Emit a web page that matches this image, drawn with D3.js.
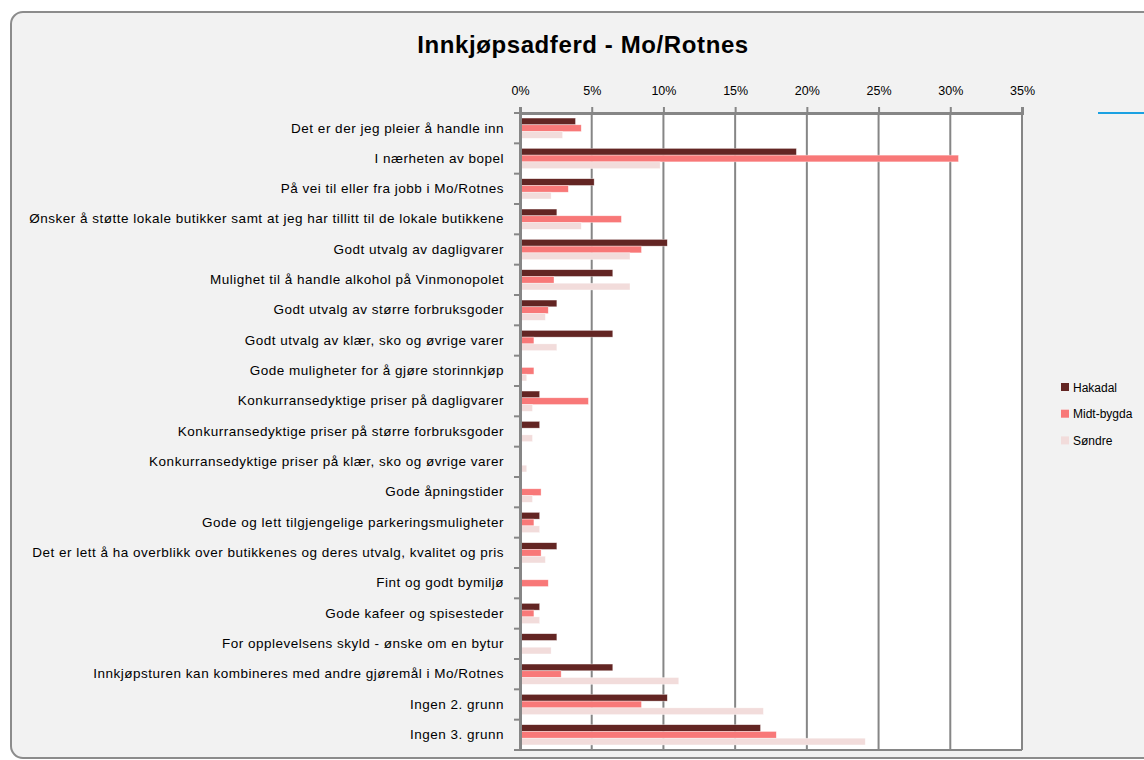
<!DOCTYPE html>
<html><head><meta charset="utf-8">
<script src="https://cdn.jsdelivr.net/npm/d3@7"></script>
<style>
html,body{margin:0;padding:0;background:#fff;}
svg{display:block;}
text{font-family:"Liberation Sans","DejaVu Sans",sans-serif;fill:#000;}
</style></head>
<body>
<svg id="c" width="1144" height="760"></svg>
<script>
const categories = [
  "Det er der jeg pleier å handle inn",
  "I nærheten av bopel",
  "På vei til eller fra jobb i Mo/Rotnes",
  "Ønsker å støtte lokale butikker samt at jeg har tillitt til de lokale butikkene",
  "Godt utvalg av dagligvarer",
  "Mulighet til å handle alkohol på Vinmonopolet",
  "Godt utvalg av større forbruksgoder",
  "Godt utvalg av klær, sko og øvrige varer",
  "Gode muligheter for å gjøre storinnkjøp",
  "Konkurransedyktige priser på dagligvarer",
  "Konkurransedyktige priser på større forbruksgoder",
  "Konkurransedyktige priser på klær, sko og øvrige varer",
  "Gode åpningstider",
  "Gode og lett tilgjengelige parkeringsmuligheter",
  "Det er lett å ha overblikk over butikkenes og deres utvalg, kvalitet og pris",
  "Fint og godt bymiljø",
  "Gode kafeer og spisesteder",
  "For opplevelsens skyld - ønske om en bytur",
  "Innkjøpsturen kan kombineres med andre gjøremål i Mo/Rotnes",
  "Ingen 2. grunn",
  "Ingen 3. grunn"
];
const seriesNames = ["Hakadal", "Midt-bygda", "Søndre"];
const hakadal   = [3.8, 19.2, 5.1, 2.5, 10.2, 6.4, 2.5, 6.4, 0, 1.3, 1.3, 0, 0, 1.3, 2.5, 0, 1.3, 2.5, 6.4, 10.2, 16.7];
const midtbygda = [4.2, 30.5, 3.3, 7.0, 8.4, 2.3, 1.9, 0.9, 0.9, 4.7, 0, 0, 1.4, 0.9, 1.4, 1.9, 0.9, 0, 2.8, 8.4, 17.8];
const sondre    = [2.9, 9.7, 2.1, 4.2, 7.6, 7.6, 1.7, 2.5, 0.4, 0.8, 0.8, 0.4, 0.8, 1.3, 1.7, 0, 1.3, 2.1, 11.0, 16.9, 24.0];
const tickValues = [0, 5, 10, 15, 20, 25, 30, 35];
const chartTitle = "Innkjøpsadferd - Mo/Rotnes";

const colors = ["#632523", "#F87878", "#F2DCDB"];
const seriesData = [hakadal, midtbygda, sondre];

const svg = d3.select("#c");
svg.append("rect").attr("x", 11).attr("y", 12).attr("width", 1160).attr("height", 746)
  .attr("rx", 12).attr("fill", "#F2F2F2").attr("stroke", "#8C8C8C").attr("stroke-width", 2);

svg.append("line").attr("x1", 1098).attr("x2", 1144).attr("y1", 113).attr("y2", 113)
  .attr("stroke", "#1BA1E2").attr("stroke-width", 2);

const pLeft = 520, pRight = 1022, pTop = 113, pBottom = 750;
const x = d3.scaleLinear().domain([0, 35]).range([pLeft, pRight]);
const y = d3.scaleBand().domain(categories).range([pTop, pBottom]).paddingInner(0.333).paddingOuter(0.1667);
const ys = d3.scaleBand().domain(seriesNames).range([0, y.bandwidth()]);

svg.append("rect").attr("x", pLeft).attr("y", pTop).attr("width", pRight - pLeft).attr("height", pBottom - pTop).attr("fill", "#fff");

svg.append("g").selectAll("line").data(tickValues).join("line")
  .attr("x1", d => x(d)).attr("x2", d => x(d)).attr("y1", pTop).attr("y2", pBottom)
  .attr("stroke", "#868686").attr("stroke-width", 2);

const rows = categories.map((c, i) => ({c, vals: seriesNames.map((s, j) => ({s, v: seriesData[j][i], j}))}));
const g = svg.append("g");
g.selectAll("g").data(rows).join("g")
  .attr("transform", d => `translate(0,${y(d.c)})`)
  .selectAll("rect").data(d => d.vals.filter(v => v.v > 0)).join("rect")
  .attr("x", x(0) + 1).attr("y", d => ys(d.s))
  .attr("width", d => x(d.v) - x(0))
  .attr("height", ys.bandwidth())
  .attr("fill", d => colors[d.j])
  .attr("stroke", "#ffffff").attr("stroke-opacity", 0.6).attr("stroke-width", 0.6);

const xAxis = d3.axisTop(x).tickValues(tickValues).tickFormat(d => d + "%").tickSize(6).tickPadding(12);
const ax = svg.append("g").attr("transform", `translate(0,${pTop})`).call(xAxis);
ax.select(".domain").attr("stroke", "#868686").attr("stroke-width", 3);
ax.selectAll(".tick line").attr("stroke", "#868686").attr("stroke-width", 2);
ax.selectAll(".tick text").attr("font-size", 12.5).attr("font-family", "Liberation Sans, sans-serif").attr("fill", "#000");

svg.append("line").attr("x1", pLeft).attr("x2", pRight).attr("y1", pBottom).attr("y2", pBottom)
  .attr("stroke", "#868686").attr("stroke-width", 2);

const yAxis = d3.axisLeft(y).tickSize(0).tickPadding(16);
const ay = svg.append("g").attr("transform", `translate(${pLeft},0)`).call(yAxis);
ay.select(".domain").attr("stroke", "#868686").attr("stroke-width", 3);
ay.selectAll(".tick text").attr("font-size", 13.5).attr("letter-spacing", 0.5)
  .attr("font-family", "Liberation Sans, sans-serif").attr("fill", "#000");
const bounds = categories.map(c => y(c) - y.step() * y.paddingInner() / 2).concat([pBottom]);
svg.append("g").selectAll("line").data(bounds).join("line")
  .attr("x1", pLeft - 6).attr("x2", pLeft).attr("y1", d => d).attr("y2", d => d)
  .attr("stroke", "#868686").attr("stroke-width", 2);

svg.append("text").attr("x", 583).attr("y", 53).attr("text-anchor", "middle")
  .attr("font-size", 24).attr("letter-spacing", 0.6).attr("font-weight", "bold").text(chartTitle);

const lg = svg.append("g").selectAll("g").data(seriesNames).join("g")
  .attr("transform", (d, i) => `translate(1061,${383 + i * 26.7})`);
lg.append("rect").attr("width", 8).attr("height", 8).attr("fill", (d, i) => colors[i]);
lg.append("text").attr("x", 12).attr("y", 8.5).attr("font-size", 12).text(d => d);
</script>
</body></html>
